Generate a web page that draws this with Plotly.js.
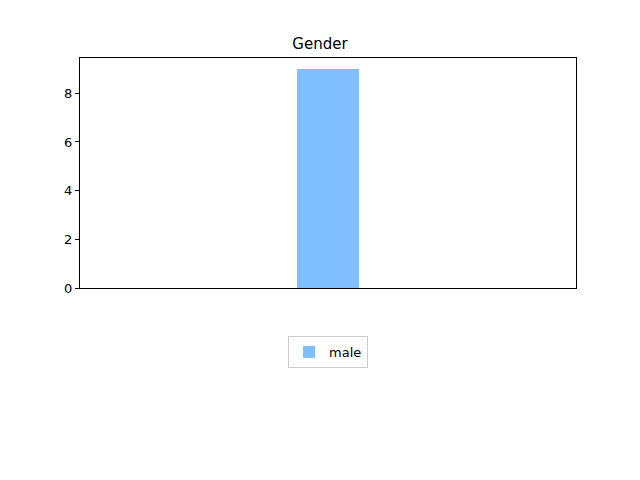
<!DOCTYPE html>
<html><head><meta charset="utf-8">
<script src="https://cdn.plot.ly/plotly-3.0.1.min.js"></script>
<style>body{margin:0}</style>
</head><body>
<div id="chart" style="width:640px;height:480px"></div>
<script>
const categories = [0];
const seriesName = "male";
const values = [9];
const yTicks = [0, 2, 4, 6, 8];

const trace = {
  type: "bar",
  x: categories,
  y: values,
  width: 0.25,
  name: seriesName,
  showlegend: true,
  marker: {color: "#80bfff", line: {width: 0}}
};

const layout = {
  width: 640, height: 480,
  margin: {l: 80, r: 64, t: 58, b: 192, pad: 0},
  paper_bgcolor: "white", plot_bgcolor: "white",
  font: {family: "DejaVu Sans", size: 13, color: "black"},
  title: {text: "Gender", x: 0.5, xanchor: "center", y: 1 - 44/480, yanchor: "middle", font: {size: 15}},
  xaxis: {range: [-1, 1], showticklabels: false, ticks: "", showgrid: false, zeroline: false,
          showline: true, mirror: true, linecolor: "black", linewidth: 1},
  yaxis: {range: [0, 9.45], tickvals: yTicks, ticks: "outside", ticklen: 4, tickcolor: "black",
          showgrid: false, zeroline: false, showline: true, mirror: true, linecolor: "black", linewidth: 1},
  legend: {x: 0.5, xanchor: "center", y: -64/230, yanchor: "middle", orientation: "h",
           bordercolor: "#cccccc", borderwidth: 1, bgcolor: "white", font: {size: 13}},
  bargap: 0
};
Plotly.newPlot("chart", [trace], layout, {displayModeBar: false, staticPlot: true});
</script>
</body></html>
